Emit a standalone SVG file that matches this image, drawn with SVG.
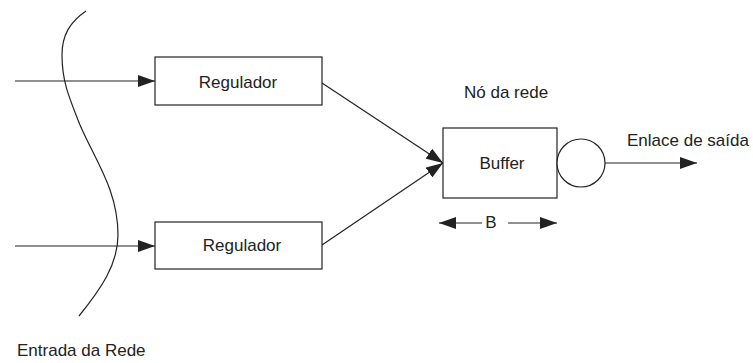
<svg xmlns="http://www.w3.org/2000/svg" width="753" height="363" viewBox="0 0 753 363">
<style>
text{font-family:"Liberation Sans",Arial,sans-serif;font-size:17px;fill:#222}
.box{fill:#fff;stroke:#222;stroke-width:1.2}
.ln{fill:none;stroke:#222;stroke-width:1.2}
</style>
<defs>
<marker id="ah" viewBox="0 0 17 12" refX="17" refY="6" markerWidth="17" markerHeight="12" markerUnits="userSpaceOnUse" orient="auto-start-reverse">
<path d="M0,0 L17,6 L0,12 Z" fill="#222"/>
</marker>
</defs>
<rect width="753" height="363" fill="#fff"/>
<g id="connectors">
<path class="ln" d="M86,11 C70,22 62,35 62,55 C62,80 68,95 80,125 C95,160 118,190 118,235 C118,265 100,290 79,316"/>
<line class="ln" x1="15" y1="81" x2="155" y2="81" marker-end="url(#ah)"/>
<line class="ln" x1="15" y1="246" x2="155" y2="246" marker-end="url(#ah)"/>
<line class="ln" x1="322" y1="83" x2="443" y2="163" marker-end="url(#ah)"/>
<line class="ln" x1="322" y1="245" x2="443" y2="163" marker-end="url(#ah)"/>
<line class="ln" x1="605" y1="163" x2="697" y2="163" marker-end="url(#ah)"/>
<line class="ln" x1="482" y1="223" x2="439" y2="223" marker-end="url(#ah)"/>
<line class="ln" x1="508" y1="223" x2="557" y2="223" marker-end="url(#ah)"/>
</g>
<g id="reg1">
<rect class="box" x="155" y="57" width="167" height="48"/>
<text x="238" y="88" text-anchor="middle">Regulador</text>
</g>
<g id="reg2">
<rect class="box" x="155" y="222" width="167" height="47"/>
<text x="242" y="251" text-anchor="middle">Regulador</text>
</g>
<g id="buffer">
<rect class="box" x="443" y="128" width="114" height="70"/>
<text x="502" y="169" text-anchor="middle">Buffer</text>
</g>
<g id="server">
<circle class="box" cx="581" cy="163" r="24"/>
</g>
<g id="labels">
<text x="464" y="98">Nó da rede</text>
<text x="627" y="146">Enlace de saída</text>
<text x="491" y="228" text-anchor="middle">B</text>
<text x="17" y="356">Entrada da Rede</text>
</g>
</svg>
